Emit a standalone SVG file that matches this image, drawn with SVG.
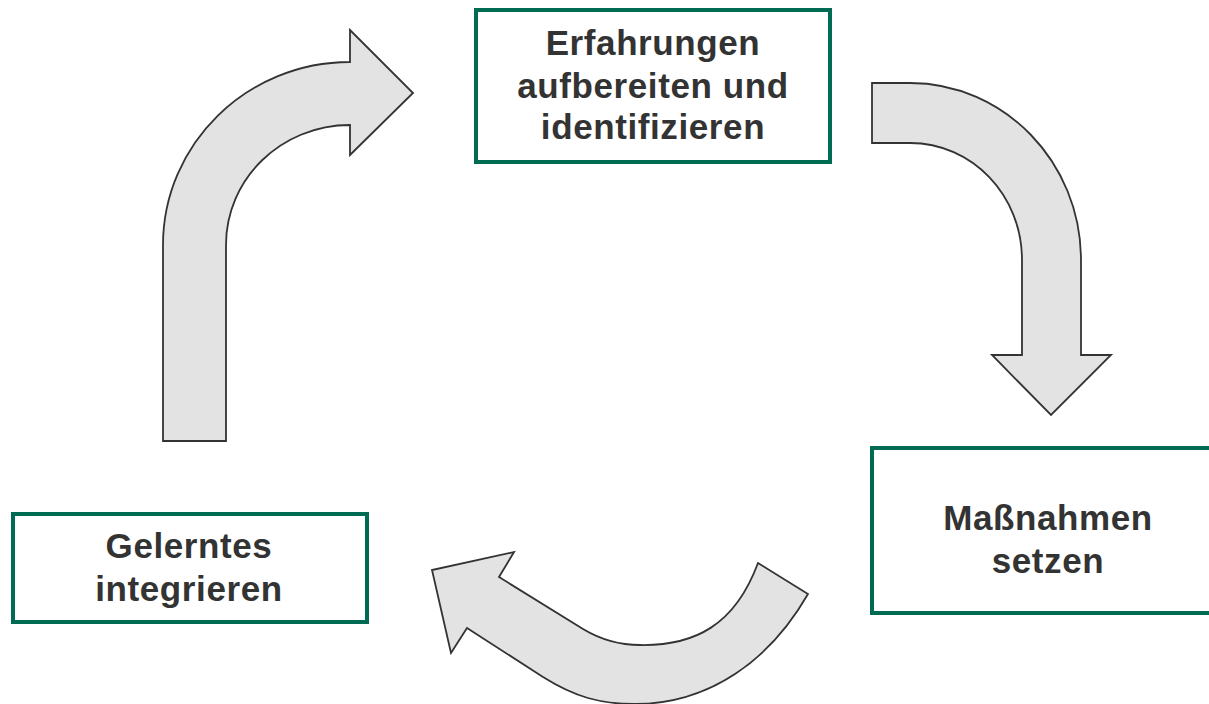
<svg xmlns="http://www.w3.org/2000/svg" width="1209" height="704" viewBox="0 0 1209 704">
<style>
.box{fill:#ffffff;stroke:#006B52;stroke-width:4}
.lbl{font-family:"Liberation Sans",Arial,sans-serif;font-weight:bold;font-size:35px;fill:#333333;text-anchor:middle;letter-spacing:0.6px}
.arr{fill:#E2E3E2;stroke:#333333;stroke-width:1.8;stroke-linejoin:miter}
</style>
<rect width="1209" height="704" fill="#ffffff"/>
<g id="connectors">
<path id="arrow-left-up" class="arr" d="M163,441 L163,245 C163,144 247,62 350,62 L350,30 L413,93 L350,155 L350,125 C281,125 226,179 226,245 L226,441 Z"/>
<path id="arrow-right-down" class="arr" d="M872,83 L910,83 C1004,83 1081,162 1081,260 L1081,355 L1111,355 L1051,415 L992,355 L1022,355 L1022,260 C1022,195 972,143 910,143 L872,143 Z"/>
<path id="arrow-bottom-left" class="arr" d="M758,563 L808,594 C770,660 710,704 635,704 C600,704 575,697 543,677 L467,628 L451,653 L432,570 L514,552 L499,577 L583,629 C603,641 620,645 640,645 C695,646 735,625 758,563 Z"/>
</g>
<g id="node-erfahrungen">
<rect class="box" x="476" y="10" width="354" height="152"/>
<text class="lbl" x="653" y="55">Erfahrungen</text>
<text class="lbl" x="653" y="98">aufbereiten und</text>
<text class="lbl" x="653" y="139">identifizieren</text>
</g>
<g id="node-massnahmen">
<rect class="box" x="872" y="448" width="345" height="165"/>
<text class="lbl" x="1048" y="530">Maßnahmen</text>
<text class="lbl" x="1048" y="573">setzen</text>
</g>
<g id="node-gelerntes">
<rect class="box" x="13" y="514" width="354" height="108"/>
<text class="lbl" x="189" y="558">Gelerntes</text>
<text class="lbl" x="189" y="601">integrieren</text>
</g>
</svg>
